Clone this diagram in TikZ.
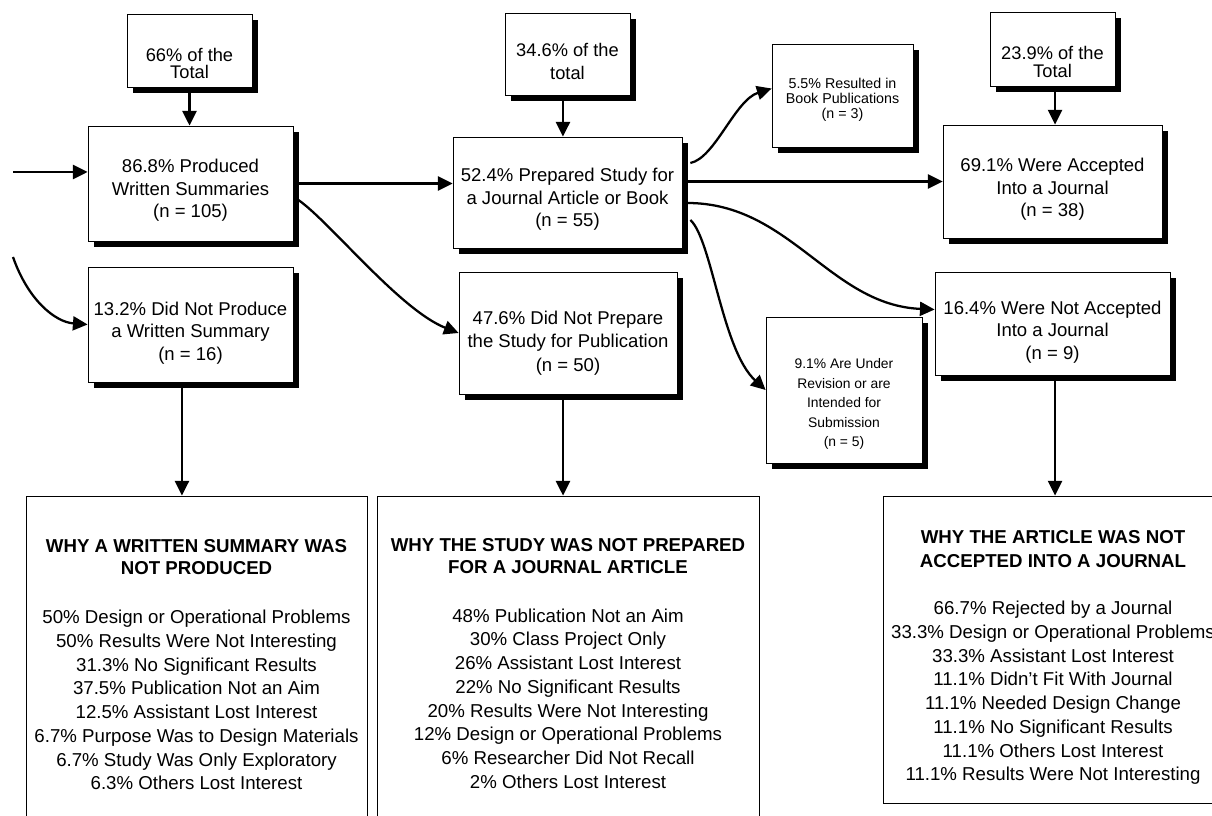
\documentclass[tikz,border=0pt]{standalone}
\usepackage{fontspec}
\setmainfont{Liberation Sans}
\usetikzlibrary{arrows.meta,shadows,calc}
\begin{document}
\begin{tikzpicture}[x=0.75pt,y=-0.75pt,
  box/.style={draw=black,line width=0.6pt,fill=white,rectangle,inner sep=0pt,
    drop shadow={shadow xshift=4.5pt,shadow yshift=-4.5pt,fill=black,opacity=1}},
  plainbox/.style={draw=black,line width=0.6pt,fill=white,rectangle,inner sep=0pt},
  txt/.style={align=center,inner sep=0pt},
  main/.style={txt,font=\fontsize{13.9}{16.9}\selectfont},
  toptxt/.style={txt,font=\fontsize{13.7}{13.2}\selectfont},
  head/.style={txt,font=\fontsize{14}{16.5}\selectfont\bfseries},
  body/.style={txt,font=\fontsize{14}{17.8}\selectfont},
  arr/.style={line width=1.7pt,-{Triangle[length=11pt,width=10.5pt]}},
]
\useasboundingbox (0,0) rectangle (1212,816);
\fill[white] (0,0) rectangle (1212,816);

% top small boxes
\node[box,minimum width=93.75pt,minimum height=54.75pt] (t66) at (189.5,50.5) {};
\node[toptxt] (t66t) at ($(t66.center)+(0,13)$) {66\% of the\\Total};
\node[box,minimum width=93.75pt,minimum height=61.5pt] (t34) at (567.5,54) {};
\node[txt,font=\fontsize{13.7}{17}\selectfont] (t34t) at ($(t34.center)+(0,7.5)$) {34.6\% of the\\total};
\node[box,minimum width=93.75pt,minimum height=55.5pt] (t23) at (1052.5,49) {};
\node[toptxt] (t23t) at ($(t23.center)+(0,13)$) {23.9\% of the\\Total};

% main boxes
\node[box,minimum width=153.75pt,minimum height=86.25pt] (p868) at (190.5,183.5) {};
\node[main] (p868t) at ($(p868.center)+(0,7)$) {86.8\% Produced\\Written Summaries\\(n = 105)};
\node[box,minimum width=153.75pt,minimum height=86.25pt] (d132) at (190.5,324.5) {};
\node[main] (d132t) at ($(d132.center)+(0,8.5)$) {13.2\% Did Not Produce\\a Written Summary\\(n = 16)};
\node[box,minimum width=171.75pt,minimum height=83.25pt] (p524) at (567.5,192.5) {};
\node[main] (p524t) at ($(p524.center)+(0,7)$) {52.4\% Prepared Study for\\a Journal Article or Book\\(n = 55)};
\node[box,minimum width=163.5pt,minimum height=91.5pt] (d476) at (568,333) {};
\node[main,font=\fontsize{13.9}{17.8}\selectfont] (d476t) at ($(d476.center)+(0,10)$) {47.6\% Did Not Prepare\\the Study for Publication\\(n = 50)};
\node[box,minimum width=105.75pt,minimum height=77.25pt] (b55) at (842.5,95.5) {};
\node[txt,font=\fontsize{10.7}{11.4}\selectfont] (b55t) at ($(b55.center)+(0,4.5)$) {5.5\% Resulted in\\Book Publications\\(n = 3)};
\node[box,minimum width=164.25pt,minimum height=84.75pt] (a691) at (1052.5,181.5) {};
\node[main] (a691t) at ($(a691.center)+(0,8)$) {69.1\% Were Accepted\\Into a Journal\\(n = 38)};
\node[box,minimum width=176.25pt,minimum height=77.25pt] (n164) at (1052.5,323.5) {};
\node[main] (n164t) at ($(n164.center)+(0,8.5)$) {16.4\% Were Not Accepted\\Into a Journal\\(n = 9)};
\node[box,minimum width=117pt,minimum height=109.5pt] (r91) at (844,390) {};
\node[txt,font=\fontsize{10.4}{14.6}\selectfont] (r91t) at ($(r91.center)+(0,14)$) {9.1\% Are Under\\Revision or are\\Intended for\\Submission\\(n = 5)};

% bottom boxes
\node[plainbox,minimum width=255.75pt,minimum height=250.5pt] (w1) at (196.5,663) {};
\node[head] (w1h) at (196.5,557.5) {WHY A WRITTEN SUMMARY WAS\\NOT PRODUCED};
\node[body] (w1b) at (196.5,700) {50\% Design or Operational Problems\\50\% Results Were Not Interesting\\31.3\% No Significant Results\\37.5\% Publication Not an Aim\\12.5\% Assistant Lost Interest\\6.7\% Purpose Was to Design Materials\\6.7\% Study Was Only Exploratory\\6.3\% Others Lost Interest};
\node[plainbox,minimum width=286.5pt,minimum height=250.5pt] (w2) at (568,663) {};
\node[head] (w2h) at (568,556) {WHY THE STUDY WAS NOT PREPARED\\FOR A JOURNAL ARTICLE};
\node[body] (w2b) at (568,698.5) {48\% Publication Not an Aim\\30\% Class Project Only\\26\% Assistant Lost Interest\\22\% No Significant Results\\20\% Results Were Not Interesting\\12\% Design or Operational Problems\\6\% Researcher Did Not Recall\\2\% Others Lost Interest};
\node[plainbox,minimum width=255pt,minimum height=230.25pt] (w3) at (1053,649.5) {};
\node[head,font=\fontsize{14}{18}\selectfont\bfseries] (w3h) at (1053,549.5) {WHY THE ARTICLE WAS NOT\\ACCEPTED INTO A JOURNAL};
\node[body] (w3b) at (1053,693) {66.7\% Rejected by a Journal\\33.3\% Design or Operational Problems\\33.3\% Assistant Lost Interest\\11.1\% Didn't Fit With Journal\\11.1\% Needed Design Change\\11.1\% No Significant Results\\11.1\% Others Lost Interest\\11.1\% Results Were Not Interesting};

% connectors
\coordinate (in1) at (13,172);
\coordinate (in2) at (13,257);
\draw[arr] (in1) -- (in1 -| p868.west);
\draw[arr] (in2) .. controls (28,300) and (55,322) .. (d132.west);
\draw[arr] (t66.south) -- (t66.south |- p868.north);
\draw[arr] ([xshift=-3.4pt]t34.south) -- ([xshift=-3.4pt]t34.south |- p524.north);
\draw[arr] ([xshift=1.9pt]t23.south) -- ([xshift=1.9pt]t23.south |- a691.north);
\draw[arr] (p868.east) -- (p868.east -| p524.west);
\draw[arr] ($(p868.east)+(5,16.5)$) .. controls (330,222) and (400,310) .. (d476.west);
\draw[arr] ($(p524.east)+(8,-29.5)$) .. controls (715,158) and (735,100) .. ($(b55.west)+(0,-7)$);
\draw[arr] (p524.east |- a691.west) -- (a691.west);
\draw[arr] ($(p524.east)+(5,10.5)$) .. controls (790,203) and (830,305) .. ($(n164.west)+(0,-14)$);
\draw[arr] ($(p524.east)+(8,27.5)$) .. controls (712,240) and (722,350) .. (r91.west);
\draw[arr] ([xshift=-6.4pt]d132.south) -- ([xshift=-6.4pt]d132.south |- w1.north);
\draw[arr] ([xshift=-3.75pt]d476.south) -- ([xshift=-3.75pt]d476.south |- w2.north);
\draw[arr] ([xshift=1.9pt]n164.south) -- ([xshift=1.9pt]n164.south |- w3.north);
\end{tikzpicture}
\end{document}
